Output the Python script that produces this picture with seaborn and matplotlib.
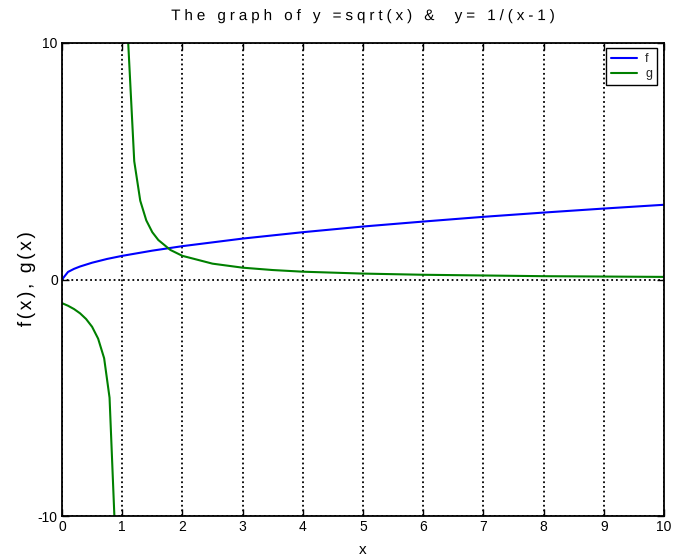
import matplotlib
matplotlib.use("Agg")
import matplotlib.pyplot as plt
import seaborn as sns
import pandas as pd
import numpy as np
from matplotlib.patheffects import AbstractPathEffect
from matplotlib.path import Path
from matplotlib.textpath import text_to_path

# ---- data ----
f_x = [0, 0.1, 0.2, 0.3, 0.5, 0.75, 1, 1.5, 2, 3, 4, 5, 6, 7, 8, 9, 10]
f_y = [0, 0.32, 0.45, 0.55, 0.71, 0.87, 1.0, 1.22, 1.41, 1.73, 2.0, 2.24, 2.45, 2.65, 2.83, 3.0, 3.16]

g_left_x = [0, 0.1, 0.2, 0.3, 0.4, 0.5, 0.6, 0.7, 0.79, 0.87]
g_left_y = [-1.0, -1.11, -1.25, -1.43, -1.67, -2.0, -2.5, -3.33, -5.0, -10.0]

g_right_x = [1.1, 1.2, 1.3, 1.4, 1.5, 1.6, 1.8, 2.0, 2.5, 3, 3.5, 4, 5, 6, 7, 8, 9, 10]
g_right_y = [10.0, 5.0, 3.33, 2.5, 2.0, 1.67, 1.25, 1.0, 0.67, 0.5, 0.4, 0.33, 0.25, 0.2, 0.17, 0.14, 0.125, 0.11]

x_ticks = [0, 1, 2, 3, 4, 5, 6, 7, 8, 9, 10]
y_ticks = [-10, 0, 10]

title = "The graph of y =sqrt(x) &  y= 1/(x-1)"
xlabel = "x"
ylabel = "f(x), g(x)"


class LetterSpacing(AbstractPathEffect):
    """Draws a (centred) text with extra space between its characters."""

    def __init__(self, text, fontprops, spacing_em):
        super().__init__()
        self.counts = []
        for ch in text:
            try:
                _, codes = text_to_path.get_text_path(fontprops, ch)
                self.counts.append(int(np.sum(np.asarray(codes) == Path.MOVETO)))
            except Exception:
                self.counts.append(0)
        self.n = len(text)
        self.sp = spacing_em * 100.0  # text2path FONT_SCALE units

    def draw_path(self, renderer, gc, tpath, affine, rgbFace=None):
        verts = np.array(tpath.vertices, dtype=float).copy()
        codes = tpath.codes
        if codes is not None and len(verts):
            starts = np.flatnonzero(np.asarray(codes) == Path.MOVETO)
            if len(starts) == sum(self.counts):
                idx = np.repeat(np.arange(self.n), self.counts)
                bounds = list(starts) + [len(verts)]
                for j in range(len(starts)):
                    verts[bounds[j]:bounds[j + 1], 0] += idx[j] * self.sp
                verts[:, 0] -= (self.n - 1) * self.sp / 2.0
        renderer.draw_path(gc, Path(verts, codes), affine, rgbFace)


sns.set_theme(style="white")
plt.rcParams['font.family'] = ['Liberation Sans', 'DejaVu Sans']

fig = plt.figure(figsize=(6.75, 5.57), dpi=100)
ax = fig.add_axes([62 / 675, 1 - 516 / 557, (664 - 62) / 675, (516 - 43) / 557])

df_f = pd.DataFrame({"x": f_x, "y": f_y})
df_gl = pd.DataFrame({"x": g_left_x, "y": g_left_y})
df_gr = pd.DataFrame({"x": g_right_x, "y": g_right_y})

sns.lineplot(data=df_f, x="x", y="y", ax=ax, color="#0000ff", lw=1.5, label="f",
             sort=False, estimator=None)
sns.lineplot(data=df_gl, x="x", y="y", ax=ax, color="#008000", lw=1.5, label="g",
             sort=False, estimator=None)
sns.lineplot(data=df_gr, x="x", y="y", ax=ax, color="#008000", lw=1.5,
             sort=False, estimator=None, legend=False)

ax.set_xlim(0, 10)
ax.set_ylim(-10, 10)
ax.set_xticks(x_ticks)
ax.set_yticks(y_ticks)
ax.set_xticklabels([str(t) for t in x_ticks])
ax.set_yticklabels([str(t) for t in y_ticks])

ax.grid(True, color="black", linestyle=(0, (1, 1.6)), linewidth=1.3)
ax.set_axisbelow(True)

for s in ax.spines.values():
    s.set_color("black")
    s.set_linewidth(1.3)
    s.set_visible(True)

ax.tick_params(direction="in", length=5, width=1, colors="black", labelsize=10,
               top=True, right=True, bottom=True, left=True, pad=3)

t = ax.set_title(title, fontsize=11, pad=16.5, color="black")
t.set_path_effects([LetterSpacing(title, t.get_fontproperties(), 0.256)])
ax.set_xlabel(xlabel, fontsize=11, labelpad=6, color="black")
yl = ax.set_ylabel(ylabel, fontsize=14, labelpad=2, color="black")
yl.set_path_effects([LetterSpacing(ylabel, yl.get_fontproperties(), 0.13)])

leg = ax.legend(loc="upper right", bbox_to_anchor=(657 / 675, 1 - 48 / 557),
                bbox_transform=fig.transFigure, borderaxespad=0,
                fontsize=9, frameon=True, fancybox=False,
                handlelength=2.1, borderpad=0.4, labelspacing=0.25,
                handletextpad=0.64)
leg.get_frame().set_edgecolor("black")
leg.get_frame().set_linewidth(1.0)
leg.get_frame().set_alpha(1)

fig.savefig("out.png", dpi=100)
